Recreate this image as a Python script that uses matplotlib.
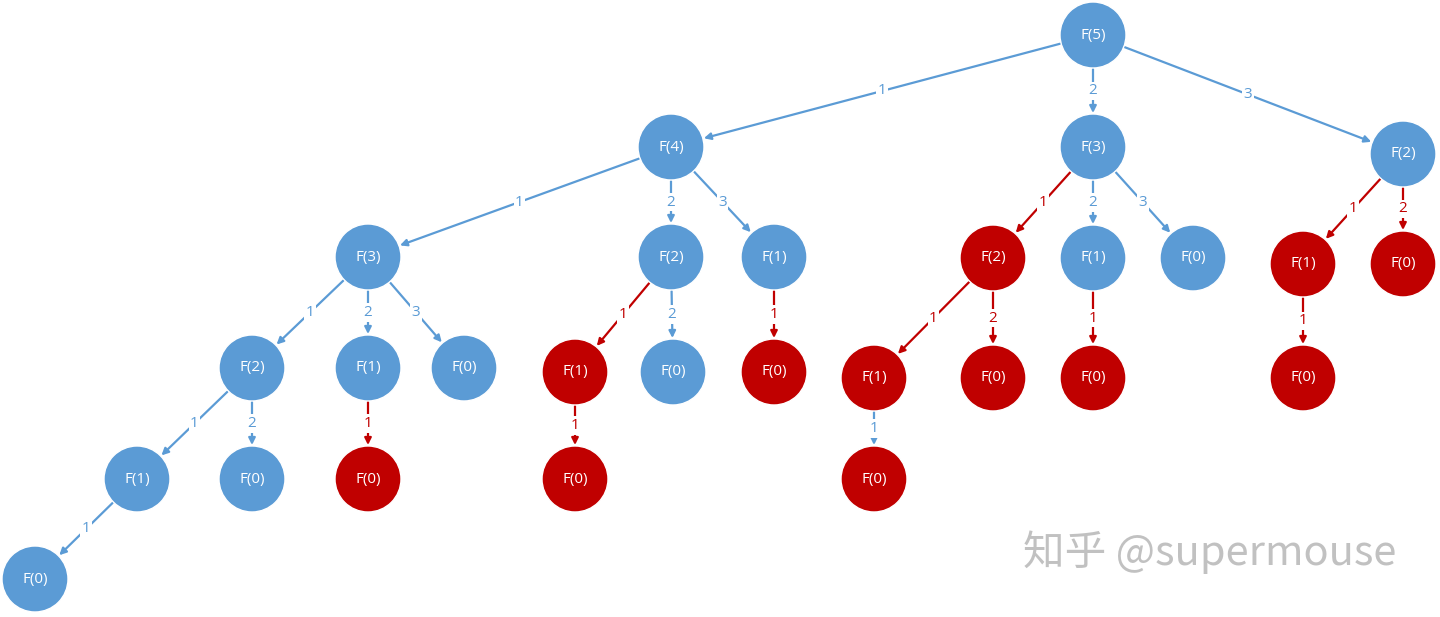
import matplotlib
matplotlib.use("Agg")
import matplotlib.pyplot as plt
from matplotlib.patches import Circle
import numpy as np

# Tree data
labels = ["F(5)",
          "F(4)", "F(3)", "F(2)",
          "F(3)", "F(2)", "F(1)", "F(2)", "F(1)", "F(0)", "F(1)", "F(0)",
          "F(2)", "F(1)", "F(0)", "F(1)", "F(0)", "F(0)", "F(1)", "F(0)", "F(0)", "F(0)",
          "F(1)", "F(0)", "F(0)", "F(0)", "F(0)",
          "F(0)"]
parents = [-1,
           0, 0, 0,
           1, 1, 1, 2, 2, 2, 3, 3,
           4, 4, 4, 5, 5, 6, 7, 7, 8, 10,
           12, 12, 13, 15, 18,
           22]
edge_labels = ["",
               "1", "2", "3",
               "1", "2", "3", "1", "2", "3", "1", "2",
               "1", "2", "3", "1", "2", "1", "1", "2", "1", "1",
               "1", "2", "1", "1", "1",
               "1"]
is_red = [0,
          0, 0, 0,
          0, 0, 0, 1, 0, 0, 1, 1,
          0, 0, 0, 1, 0, 1, 1, 1, 1, 1,
          0, 0, 1, 1, 1,
          0]
red_edge = [0,
            0, 0, 0,
            0, 0, 0, 1, 0, 0, 1, 1,
            0, 0, 0, 1, 0, 1, 1, 1, 1, 1,
            0, 0, 1, 1, 0,
            0]
# layout (pixel coordinates)
xs = [1093,
      671, 1093, 1403,
      368, 671, 774, 993, 1093, 1193, 1303, 1403,
      252, 368, 464, 575, 673, 774, 874, 993, 1093, 1303,
      137, 252, 368, 575, 874,
      35]
ys = [35,
      147, 147, 154,
      257, 257, 257, 258, 258, 258, 264, 264,
      368, 368, 368, 372, 372, 372, 378, 378, 378, 378,
      479, 479, 479, 479, 479,
      579]

BLUE = "#5B9BD5"
RED = "#C00000"
R = 33

fig = plt.figure(figsize=(14.4, 6.17), dpi=100)
ax = fig.add_axes([0, 0, 1, 1])
ax.set_xlim(0, 1440)
ax.set_ylim(617, 0)
ax.set_aspect("equal")
ax.axis("off")

for i, p in enumerate(parents):
    if p < 0:
        continue
    col = RED if red_edge[i] else BLUE
    x0, y0, x1, y1 = xs[p], ys[p], xs[i], ys[i]
    d = np.hypot(x1 - x0, y1 - y0)
    ux, uy = (x1 - x0) / d, (y1 - y0) / d
    sx, sy = x0 + ux * (R + 1), y0 + uy * (R + 1)
    ex, ey = x1 - ux * (R + 1), y1 - uy * (R + 1)
    ax.annotate("", xy=(ex, ey), xytext=(sx, sy),
                arrowprops=dict(arrowstyle="-|>", color=col, lw=1.6,
                                mutation_scale=10, shrinkA=0, shrinkB=0), zorder=1)
    mx, my = (sx + ex) / 2, (sy + ey) / 2
    ax.text(mx, my, edge_labels[i], color=col, fontsize=11, ha="center", va="center",
            family="Open Sans",
            bbox=dict(boxstyle="square,pad=0.1", fc="white", ec="none"), zorder=2)

for i, lab in enumerate(labels):
    col = RED if is_red[i] else BLUE
    ax.add_patch(Circle((xs[i], ys[i]), R, fc=col, ec="white", lw=1, zorder=3))
    ax.text(xs[i], ys[i], lab, color="white", fontsize=11, ha="center", va="center",
            family="Open Sans", zorder=4)

ax.text(1210, 552, "知乎 @supermouse", color="#BBBBBB", fontsize=30, ha="center",
        va="center", family=["Noto Sans CJK SC", "DejaVu Sans"], alpha=0.9, zorder=0)

fig.savefig("out.png", dpi=100)
